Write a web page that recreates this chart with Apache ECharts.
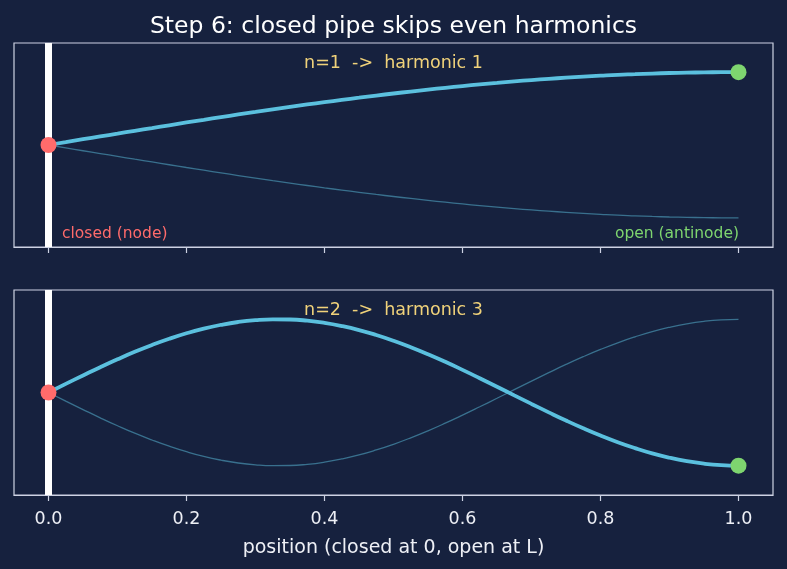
<!DOCTYPE html>
<html>
<head>
<meta charset="utf-8">
<script src="https://cdn.jsdelivr.net/npm/echarts@6/dist/echarts.min.js"></script>
<style>
html,body{margin:0;padding:0;background:#16213e;}
#chart{width:787px;height:569px;}
</style>
</head>
<body>
<div id="chart"></div>
<script>
// ---- data ----
const positions = [0, 0.025, 0.05, 0.075, 0.1, 0.125, 0.15, 0.175, 0.2, 0.225, 0.25, 0.275, 0.3, 0.325, 0.35, 0.375, 0.4, 0.425, 0.45, 0.475, 0.5,
  0.525, 0.55, 0.575, 0.6, 0.625, 0.65, 0.675, 0.7, 0.725, 0.75, 0.775, 0.8, 0.825, 0.85, 0.875, 0.9, 0.925, 0.95, 0.975, 1.0];
const harmonic1 = [0, 0.039, 0.079, 0.118, 0.156, 0.195, 0.233, 0.271, 0.309, 0.346, 0.383, 0.419, 0.454, 0.489, 0.523, 0.556, 0.588, 0.619, 0.649, 0.679, 0.707,
  0.734, 0.760, 0.785, 0.809, 0.832, 0.853, 0.873, 0.891, 0.908, 0.924, 0.938, 0.951, 0.963, 0.972, 0.981, 0.988, 0.993, 0.997, 0.999, 1.0];
const harmonic1Ghost = [0, -0.039, -0.079, -0.118, -0.156, -0.195, -0.233, -0.271, -0.309, -0.346, -0.383, -0.419, -0.454, -0.489, -0.523, -0.556, -0.588, -0.619, -0.649, -0.679, -0.707,
  -0.734, -0.760, -0.785, -0.809, -0.832, -0.853, -0.873, -0.891, -0.908, -0.924, -0.938, -0.951, -0.963, -0.972, -0.981, -0.988, -0.993, -0.997, -0.999, -1.0];
const harmonic3 = [0, 0.118, 0.233, 0.346, 0.454, 0.556, 0.649, 0.734, 0.809, 0.873, 0.924, 0.963, 0.988, 0.999, 0.997, 0.981, 0.951, 0.908, 0.853, 0.785, 0.707,
  0.619, 0.523, 0.419, 0.309, 0.195, 0.079, -0.039, -0.156, -0.271, -0.383, -0.489, -0.588, -0.679, -0.760, -0.832, -0.891, -0.938, -0.972, -0.993, -1.0];
const harmonic3Ghost = [0, -0.118, -0.233, -0.346, -0.454, -0.556, -0.649, -0.734, -0.809, -0.873, -0.924, -0.963, -0.988, -0.999, -0.997, -0.981, -0.951, -0.908, -0.853, -0.785, -0.707,
  -0.619, -0.523, -0.419, -0.309, -0.195, -0.079, 0.039, 0.156, 0.271, 0.383, 0.489, 0.588, 0.679, 0.760, 0.832, 0.891, 0.938, 0.972, 0.993, 1.0];
const closedEnd = [0, 0];
const openEnd1 = [1.0, 1.0];
const openEnd3 = [1.0, -1.0];
const tickValues = [0, 0.2, 0.4, 0.6, 0.8, 1.0];
const panelTitles = ['n=1  ->  harmonic 1', 'n=2  ->  harmonic 3'];
const chartTitle = 'Step 6: closed pipe skips even harmonics';
const xLabel = 'position (closed at 0, open at L)';

const BG = '#16213e';
const SPINE = '#cdd2e3';
const MAIN = '#5bc0de';
const GHOST = 'rgba(91,192,222,0.5)';
const RED = '#ff6b6b';
const GREEN = '#7ed56f';
const GOLD = '#f0d27a';
const FONT = 'DejaVu Sans';

const pair = (xs, ys) => xs.map((x, i) => [x, ys[i]]);

const chart = echarts.init(document.getElementById('chart'), null, {renderer: 'canvas'});

function xAxisFor(idx, showLabels) {
  return {
    type: 'value', gridIndex: idx, min: -0.05, max: 1.05,
    axisLine: {show: true, onZero: false, lineStyle: {color: SPINE, width: 1.2}},
    axisTick: {show: true, length: 6, customValues: tickValues, lineStyle: {color: SPINE, width: 1.2}},
    axisLabel: {show: showLabels, customValues: tickValues, color: '#eef0f6', fontSize: 17.5, fontFamily: FONT, margin: 15,
      formatter: v => v.toFixed(1)},
    splitLine: {show: false},
    name: showLabels ? xLabel : '', nameLocation: 'middle', nameGap: 44,
    nameTextStyle: {color: '#eef0f6', fontSize: 19, fontFamily: FONT}
  };
}
function yAxisFor(idx) {
  return {type: 'value', gridIndex: idx, min: -1.4, max: 1.4, show: false};
}
function panelSeries(idx, main, ghost, openEnd) {
  return [
    {type: 'line', xAxisIndex: idx, yAxisIndex: idx, data: pair(positions, ghost), smooth: 0.5, symbol: 'none',
      lineStyle: {color: GHOST, width: 1.3}, z: 2,
      markLine: {silent: true, symbol: 'none', label: {show: false},
        lineStyle: {color: '#ffffff', width: 7, type: 'solid'}, data: [{xAxis: 0}], z: 1}},
    {type: 'line', xAxisIndex: idx, yAxisIndex: idx, data: pair(positions, main), smooth: 0.5, symbol: 'none',
      lineStyle: {color: MAIN, width: 3.8}, z: 3},
    {type: 'scatter', xAxisIndex: idx, yAxisIndex: idx, symbolSize: 16, z: 5,
      data: [{value: closedEnd, itemStyle: {color: RED, opacity: 1}}, {value: openEnd, itemStyle: {color: GREEN, opacity: 1}}]}
  ];
}

chart.setOption({
  backgroundColor: BG,
  animation: false,
  title: {text: chartTitle, left: 'center', top: 10,
    textStyle: {color: '#ffffff', fontSize: 23.5, fontWeight: 'normal', fontFamily: FONT}},
  grid: [
    {left: 14, right: 14, top: 43, height: 204, show: true, borderColor: SPINE, borderWidth: 1.2, backgroundColor: 'transparent'},
    {left: 14, right: 14, top: 290, height: 205, show: true, borderColor: SPINE, borderWidth: 1.2, backgroundColor: 'transparent'}
  ],
  xAxis: [xAxisFor(0, false), xAxisFor(1, true)],
  yAxis: [yAxisFor(0), yAxisFor(1)],
  series: [].concat(
    panelSeries(0, harmonic1, harmonic1Ghost, openEnd1),
    panelSeries(1, harmonic3, harmonic3Ghost, openEnd3)
  ),
  graphic: [
    {type: 'text', x: 393.5, y: 63, style: {text: panelTitles[0], fill: GOLD, font: '17.5px "DejaVu Sans"', align: 'center', verticalAlign: 'middle'}},
    {type: 'text', x: 393.5, y: 310, style: {text: panelTitles[1], fill: GOLD, font: '17.5px "DejaVu Sans"', align: 'center', verticalAlign: 'middle'}},
    {type: 'text', x: 62, y: 234, style: {text: 'closed (node)', fill: RED, font: '15.5px "DejaVu Sans"', align: 'left', verticalAlign: 'middle'}},
    {type: 'text', x: 739, y: 234, style: {text: 'open (antinode)', fill: GREEN, font: '15.5px "DejaVu Sans"', align: 'right', verticalAlign: 'middle'}}
  ]
});
</script>
</body>
</html>
